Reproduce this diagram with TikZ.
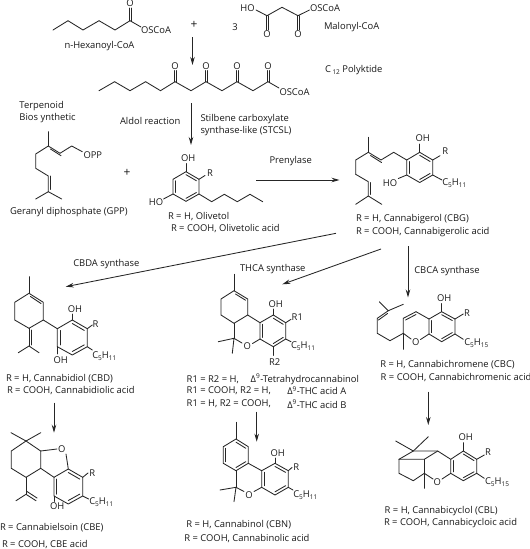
\documentclass[tikz,border=0pt]{standalone}
\usepackage{fontspec}
\setmainfont{Open Sans}
\usetikzlibrary{calc,arrows.meta}
\newcommand{\benz}[6]{%
  \draw[bond] (#1)--(#2)--(#3)--(#4)--(#5)--(#6)--cycle;
  \coordinate (cc) at ($(#2)!.5!(#5)$);
  \draw[bond] ($(#2)!.2!(cc)$)--($(#3)!.2!(cc)$);
  \draw[bond] ($(#4)!.2!(cc)$)--($(#5)!.2!(cc)$);
  \draw[bond] ($(#6)!.2!(cc)$)--($(#1)!.2!(cc)$);
}
\newcommand{\lbl}[4]{\node[lab] (#1) at (#2,#3) {#4};}
\newcommand{\atom}[4]{\node[atomlab] (#1) at (#2,#3) {#4};}
\newcommand{\sbs}[1]{\raisebox{-2pt}{\fontsize{6.5}{7}\selectfont #1}}
\newcommand{\CH}[1]{C\sbs{5}H\sbs{#1}}
\tikzset{
  x=1pt,y=-1pt,
  bond/.style={line width=.85pt,draw=black!85,line join=miter,line cap=round},
  rxn/.style={line width=.85pt,draw=black!85,-{Stealth[length=8pt,width=4.5pt]}},
  lab/.style={anchor=west,inner sep=0pt,outer sep=0pt,font=\fontsize{9.4}{11}\selectfont,text=black!90},
  atomlab/.style={anchor=center,inner sep=0pt,outer sep=0pt,font=\fontsize{9.4}{11}\selectfont,text=black!90},
  pluslab/.style={anchor=center,inner sep=0pt,outer sep=0pt,font=\fontsize{12}{13}\selectfont,text=black!90},
}
\begin{document}
\begin{tikzpicture}
\useasboundingbox (0,0) rectangle (530,549);
\fill[white] (0,0) rectangle (530,549);
% hexanoyl
\draw[bond] (53,30)--(68,20.7)--(83,30)--(99,20.7)--(115,30)--(130,20.7)--(141,27);
\draw[bond] (129,20.7)--(129,8) (131.5,20.7)--(131.5,8);
\atom{o1}{130}{3.5}{O}
\lbl{os1}{141}{30.5}{OSCoA}
\lbl{t1}{64.5}{46}{n-Hexanoyl-CoA}
\node[pluslab] (plus1) at (194,24.7) {+};
\atom{three}{235}{26.7}{3}
% malonyl
\atom{ho1}{247.5}{8}{HO}
\draw[bond] (256,10)--(267,15.7)--(282,7.3)--(298,15.7)--(309.5,10);
\draw[bond] (266,15.7)--(266,30) (268.5,15.7)--(268.5,30) (297,15.7)--(297,30) (299.5,15.7)--(299.5,30);
\atom{o2}{267}{34.5}{O}
\atom{o3}{298}{34.5}{O}
\lbl{os2}{310}{8}{OSCoA}
\lbl{t2}{324}{27}{Malonyl-CoA}
% arrow 1
\coordinate (a1s) at (192.5,37);
\coordinate (a1e) at (192.5,65);
\draw[rxn] (a1s)--(a1e);
% polyketide
\draw[bond] (99,90.7)--(114.6,81.7)--(130,90.7)--(145.6,81.7)--(160.5,90.7)--(175,81.7)--(191,90.7)--(206,81.7)--(222,90.7)--(237,81.7)--(253,90.7)--(268,81.7)--(279,88);
\draw[bond] (174,81.7)--(174,70.5) (176.5,81.7)--(176.5,70.5) (205,81.7)--(205,70.5) (207.5,81.7)--(207.5,70.5) (236,81.7)--(236,70.5) (238.5,81.7)--(238.5,70.5) (267,81.7)--(267,70.5) (269.5,81.7)--(269.5,70.5);
\atom{o4}{175}{65.7}{O}
\atom{o5}{206}{65.7}{O}
\atom{o6}{237}{65.7}{O}
\atom{o7}{268}{65.7}{O}
\lbl{os3}{279.5}{92.5}{OSCoA}
\lbl{t3}{325}{70}{C\,\sbs{12} Polyktide}
% arrow 2
\coordinate (a2s) at (191,103);
\coordinate (a2e) at (191,145);
\draw[rxn] (a2s)--(a2e);
\lbl{t4}{19.5}{106}{Terpenoid}
\lbl{t5}{19.5}{118}{Bios ynthetic}
\lbl{t6}{120}{121.3}{Aldol reaction}
\lbl{t7}{200.5}{119.5}{Stilbene carboxylate}
\lbl{t8}{200.5}{131.5}{synthase-like (STCSL)}
% GPP
\draw[bond] (82.3,151.7)--(71.7,146)--(60,153.3)--(48.3,146)--(35.7,154)--(35.7,168.3)--(48.3,176)--(48.3,191.7);
\draw[bond] (48.3,146)--(48.3,131.7);
\draw[bond] (35.7,199)--(48.3,191.7)--(61.7,199);
\draw[bond] (50.5,149)--(61,155.7);
\draw[bond] (50.8,176)--(50.8,189.5);
\lbl{opp}{83.5}{154.7}{OPP}
\lbl{t9}{10}{212}{Geranyl diphosphate (GPP)}
\node[pluslab] (plus2) at (127,173) {+};
% Olivetol
\benz{173,179.3}{186,171.7}{199,179.3}{199,194}{186,201.3}{173,194}
\draw[bond] (186,171.7)--(186,163.5);
\draw[bond] (199,179.3)--(205,175.5);
\draw[bond] (173,194)--(163.5,199);
\draw[bond] (199,194)--(211.7,201.7)--(224.3,194.3)--(237.3,201.7)--(250,194.3)--(262.7,201.7);
\atom{oh1}{188.3}{158}{OH}
\lbl{r1}{207}{173.3}{R}
\atom{ho2}{156}{202.3}{HO}
\lbl{t10}{168}{216.7}{R = H, Olivetol}
\lbl{t11}{171}{228.5}{R = COOH, Olivetolic acid}
\lbl{t12}{269.5}{161}{Prenylase}
\coordinate (a3s) at (256,180);
\coordinate (a3e) at (339.5,180);
\draw[rxn] (a3s)--(a3e);
% CBG
\draw[bond] (368.3,137.3)--(368.3,152.3);
\draw[bond] (355.7,174.3)--(355.7,160)--(368.3,152.3)--(381,160)--(393.7,152.3)--(406.7,160);
\draw[bond] (370.5,155.5)--(381.5,162.5);
\draw[bond] (355.7,174.3)--(368.3,181.7)--(368.3,196);
\draw[bond] (370.8,182.5)--(370.8,194.5);
\draw[bond] (355.7,204.3)--(368.3,196)--(381.7,204.3);
\benz{406.7,160}{419.7,152.3}{432.7,160}{432.7,175}{419.7,182.5}{406.7,175}
\draw[bond] (419.7,152.3)--(419.7,144);
\draw[bond] (432.7,160)--(440,155.7);
\draw[bond] (432.7,175)--(442,180);
\draw[bond] (406.7,175)--(398.3,178.5);
\atom{oh2}{422.7}{138.3}{OH}
\lbl{r2}{442.3}{151.3}{R}
\lbl{c1}{442.3}{182.7}{\CH{11}}
\atom{ho3}{390}{182.7}{HO}
\lbl{t13}{356}{219}{R = H, Cannabigerol (CBG)}
\lbl{t14}{356}{231.7}{R = COOH, Cannabigerolic acid}
% main arrows
\coordinate (a4s) at (336,233.3);
\coordinate (a4e) at (65.7,286.7);
\draw[rxn] (a4s)--(a4e);
\coordinate (a5s) at (381,249);
\coordinate (a5e) at (282.3,284.3);
\draw[rxn] (a5s)--(a5e);
\coordinate (a6s) at (408,246);
\coordinate (a6e) at (408,297.5);
\draw[rxn] (a6s)--(a6e);
\lbl{t15}{73.3}{264.3}{CBDA synthase}
\lbl{t16}{240}{268.7}{THCA synthase}
\lbl{t17}{414.3}{270.7}{CBCA synthase}
% CBD
\draw[bond] (29,276.7)--(29,293.3);
\draw[bond] (29,293.3)--(43.3,302.3)--(43.3,320)--(29,328.3)--(14.7,320)--(14.7,302.3)--cycle;
\draw[bond] (30.5,296.5)--(41,303.5);
\draw[bond] (29,328.3)--(29,346);
\draw[bond] (31.8,330)--(31.8,345);
\draw[bond] (18.3,352.7)--(29,346)--(39,352.7);
\draw[bond] (43.3,320)--(57.3,328.7);
\benz{57.3,328.7}{72.3,320}{87.3,328.7}{87.3,346.7}{72.3,355}{57.3,346.7}
\draw[bond] (72.3,320)--(72.3,314);
\draw[bond] (87.3,328.7)--(92.3,325);
\draw[bond] (87.3,346.7)--(92.3,350);
\draw[bond] (57.3,346.7)--(57.3,354);
\atom{oh3}{75}{309.5}{OH}
\lbl{r3}{92.7}{324}{R}
\lbl{c2}{92.3}{356}{\CH{11}}
\atom{oh4}{60.7}{359.7}{OH}
\lbl{t18}{6}{379}{R = H, Cannabidiol (CBD)}
\lbl{t19}{7}{391}{R = COOH, Cannabidiolic acid}
\coordinate (a7s) at (54,402.7);
\coordinate (a7e) at (54,432.7);
\draw[rxn] (a7s)--(a7e);
% CBE
\draw[bond] (11,432.7)--(26,441)--(40.7,432.7);
\draw[bond] (26,441)--(40.7,451)--(40.7,468.3)--(26,477.3)--(11.3,468.3)--(11.3,451)--cycle;
\draw[bond] (40.7,451)--(57,449);
\draw[bond] (66,454)--(68.3,469);
\draw[bond] (40.7,468.3)--(54,477.3);
\benz{54,477.3}{68.3,469}{82.7,477.3}{82.7,496}{68.3,504}{54,496}
\draw[bond] (82.7,477.3)--(88,473);
\draw[bond] (82.7,496)--(88.7,499);
\draw[bond] (54,496)--(54,501.5);
\draw[bond] (26,477.3)--(26,494.3);
\draw[bond] (16,500.7)--(26,494.3)--(36,500.7);
\draw[bond] (27,491.5)--(37,498);
\atom{o8}{61.7}{449}{O}
\lbl{r4}{89.3}{472.7}{R}
\lbl{c3}{89.3}{502.3}{\CH{11}}
\atom{oh5}{57.3}{506.5}{OH}
\lbl{t20}{0}{527.7}{R = Cannabielsoin (CBE)}
\lbl{t21}{2}{544.3}{R = COOH, CBE acid}
% THC
\draw[bond] (234,274.3)--(234,290.7);
\draw[bond] (234,290.7)--(247.7,299)--(247.7,315)--(234,323.3)--(221,315)--(221,299)--cycle;
\draw[bond] (235.5,294)--(245.5,300.2);
\draw[bond] (234,323.3)--(234,338.3);
\draw[bond] (218.3,341.7)--(234,338.3)--(232.3,353.3);
\draw[bond] (234,338.3)--(242,343);
\draw[bond] (252.5,343.5)--(260,339);
\draw[bond] (247.7,315)--(260,322.7);
\benz{260,322.7}{273.3,315}{285.7,322.7}{285.7,339}{273.3,346.7}{260,339}
\draw[bond] (273.3,315)--(273.3,309);
\draw[bond] (285.7,322.7)--(291,319.3);
\draw[bond] (285.7,339)--(291,341.7);
\draw[bond] (273.3,346.7)--(273.3,355.5);
\atom{o9}{247.3}{346}{O}
\atom{oh6}{275.7}{304.3}{OH}
\lbl{r5}{291.7}{317.3}{R1}
\lbl{c4}{291}{345.7}{\CH{11}}
\atom{r6}{274.7}{362.3}{R2}
\lbl{t22}{186.7}{379.3}{R1 = R2 = H,}
\lbl{t23}{250.7}{379.3}{Δ\textsuperscript{9}-Tetrahydrocannabinol}
\lbl{t24}{186.7}{390.7}{R1 = COOH, R2 = H,}
\lbl{t25}{287.3}{390.7}{Δ\textsuperscript{9}-THC acid A}
\lbl{t26}{186.7}{404}{R1 = H, R2 = COOH,}
\lbl{t27}{287.3}{404}{Δ\textsuperscript{9}-THC acid B}
\coordinate (a8s) at (256.7,411.7);
\coordinate (a8e) at (256.7,441.7);
\draw[rxn] (a8s)--(a8e);
% CBN
\draw[bond] (236,422.3)--(236,439);
\benz{223.3,446.7}{236,439}{248.3,446.7}{248.3,463.3}{236,470.7}{223.3,463.3}
\draw[bond] (236,470.7)--(236,487.3);
\draw[bond] (220,490)--(236,487.3)--(234,501.7);
\draw[bond] (236,487.3)--(244,491.5);
\draw[bond] (254,491.5)--(261.7,487.3);
\draw[bond] (248.3,463.3)--(261.7,470.7);
\benz{261.7,470.7}{275,463.3}{288.3,470.7}{288.3,487.3}{275,495}{261.7,487.3}
\draw[bond] (275,463.3)--(275,458);
\draw[bond] (288.3,470.7)--(292,467.5);
\draw[bond] (288.3,487.3)--(293,490);
\atom{o10}{249}{495}{O}
\atom{oh7}{277.7}{453.3}{OH}
\lbl{r7}{293.3}{466.7}{R}
\lbl{c5}{293.3}{495}{\CH{11}}
\lbl{t28}{186.3}{525}{R = H, Cannabinol (CBN)}
\lbl{t29}{184.3}{539}{R = COOH, Cannabinolic acid}
% CBC
\draw[bond] (379.3,301.7)--(388.3,310.7)--(403.3,304.3);
\draw[bond] (388.3,310.7)--(377.3,318.3)--(377.3,333.3)--(390,340.7)--(403.3,333.3);
\draw[bond] (387.5,313.5)--(378.5,320);
\draw[bond] (403.3,333.3)--(403.3,349.3);
\draw[bond] (403.3,333.3)--(403.3,318.3)--(416,311.7)--(429,319);
\draw[bond] (405.5,320)--(416,314.5);
\draw[bond] (403.3,333.3)--(411,339);
\draw[bond] (420.5,339.5)--(429,334);
\benz{429,319}{441.7,311.7}{455,319}{455,334}{441.7,341.7}{429,334}
\draw[bond] (441.7,311.7)--(441.7,303.5);
\draw[bond] (455,319)--(463.3,314);
\draw[bond] (455,334)--(463.3,339.3);
\atom{o11}{415.7}{342.3}{O}
\atom{oh8}{444.3}{298}{OH}
\lbl{r8}{464}{313.3}{R}
\lbl{c6}{464.3}{343.3}{\CH{15}}
\lbl{t30}{380.3}{364.3}{R = H, Cannabichromene (CBC)}
\lbl{t31}{380.7}{377.7}{R = COOH, Cannabichromenic acid}
\coordinate (a9s) at (428.3,391.7);
\coordinate (a9e) at (428.3,425);
\draw[rxn] (a9s)--(a9e);
% CBL
\draw[bond] (395.7,441)--(413.3,451)--(428.3,436.7);
\draw[bond] (399,459.3)--(413.3,451)--(437.7,451)--(450.7,459.3);
\draw[bond] (399,459.3)--(424.3,459.3)--(437.7,451);
\draw[bond] (399,459.3)--(399,473.3)--(413.3,480.7)--(424.3,473.3);
\draw[bond] (424.3,459.3)--(424.3,488.3);
\draw[bond] (424.3,473.3)--(433,479);
\draw[bond] (442,479)--(450.7,473.3);
\benz{450.7,459.3}{463.3,451}{476.7,459.3}{476.7,473.3}{463.3,480.7}{450.7,473.3}
\draw[bond] (463.3,451)--(463.3,442.7);
\draw[bond] (476.7,459.3)--(484.3,455);
\draw[bond] (476.7,473.3)--(484.3,478.3);
\atom{o12}{437.3}{481.7}{O}
\atom{oh9}{465.7}{437}{OH}
\lbl{r9}{485}{452}{R}
\lbl{c7}{485}{482.3}{\CH{15}}
\lbl{t32}{384.7}{511}{R = H, Cannabicyclol (CBL)}
\lbl{t33}{384}{523.3}{R = COOH, Cannabicycloic acid}
\end{tikzpicture}
\end{document}
